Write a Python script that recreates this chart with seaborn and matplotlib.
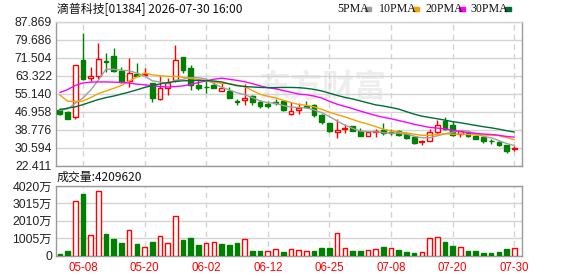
import numpy as np
import pandas as pd
import matplotlib
matplotlib.use("Agg")
import matplotlib.pyplot as plt
import seaborn as sns

# ---------------- data ----------------
dates = ["05-05", "05-06", "05-07", "05-08", "05-11", "05-12", "05-13", "05-14", "05-15", "05-18",
         "05-19", "05-20", "05-21", "05-22", "05-26", "05-27", "05-28", "05-29", "06-01", "06-02",
         "06-03", "06-04", "06-05", "06-08", "06-09", "06-10", "06-11", "06-12", "06-15", "06-16",
         "06-17", "06-18", "06-22", "06-23", "06-24", "06-25", "06-26", "06-29", "06-30", "07-02",
         "07-03", "07-06", "07-07", "07-08", "07-09", "07-10", "07-13", "07-14", "07-15", "07-16",
         "07-17", "07-20", "07-21", "07-22", "07-23", "07-24", "07-27", "07-28", "07-29", "07-30"]

open_ = [47.8, 46.9, 44.5, 70.4, 62.3, 63.3, 69.8, 72.2, 65.6, 61.1,
         64.2, 63.6, 59.9, 52.8, 57.9, 61.5, 71.6, 67.0, 59.0, 58.3,
         59.1, 56.6, 56.4, 51.9, 52.1, 54.2, 51.2, 50.4, 51.3, 51.9,
         45.9, 47.8, 49.5, 50.1, 45.6, 41.7, 37.6, 39.2, 40.6, 38.1,
         36.2, 38.0, 38.7, 37.9, 38.4, 36.9, 35.4, 33.5, 33.9, 37.8,
         42.6, 41.1, 36.9, 37.4, 36.1, 35.4, 33.9, 33.3, 31.8, 30.2]
close = [46.0, 43.8, 68.0, 61.8, 63.0, 70.8, 69.3, 65.4, 60.3, 64.4,
         63.4, 64.0, 53.1, 57.8, 60.1, 70.6, 65.9, 59.0, 57.7, 58.0,
         57.9, 57.6, 53.4, 51.5, 53.4, 51.2, 49.4, 49.4, 51.0, 47.6,
         47.4, 48.9, 49.1, 45.6, 42.2, 38.1, 38.7, 39.4, 38.4, 35.9,
         37.6, 38.2, 37.3, 37.5, 36.6, 35.1, 32.9, 33.7, 37.8, 41.1,
         39.3, 36.6, 38.1, 35.9, 34.8, 33.6, 33.6, 31.8, 29.1, 30.4]
high = [48.6, 47.2, 68.3, 82.8, 67.3, 78.3, 73.8, 75.8, 67.4, 71.3,
        69.0, 66.6, 60.2, 63.0, 62.2, 77.1, 71.8, 68.0, 61.6, 61.0,
        61.1, 60.3, 58.4, 52.8, 59.4, 54.6, 52.4, 51.9, 52.8, 52.0,
        51.6, 50.9, 51.9, 50.3, 45.9, 41.7, 43.6, 41.4, 40.6, 39.6,
        38.4, 39.2, 41.9, 39.3, 38.9, 37.8, 35.9, 34.4, 39.3, 43.4,
        44.7, 42.6, 38.9, 38.4, 36.6, 35.9, 34.6, 33.6, 32.1, 31.3]
low = [45.3, 43.7, 43.8, 61.4, 61.0, 61.8, 65.1, 65.0, 59.9, 58.4,
       63.0, 63.1, 51.6, 52.3, 54.8, 60.5, 64.6, 56.7, 56.8, 55.4,
       57.6, 56.6, 53.4, 50.1, 50.1, 50.1, 48.9, 48.9, 50.1, 47.4,
       45.3, 45.9, 48.6, 44.4, 41.6, 37.8, 35.1, 37.4, 38.1, 35.9,
       35.9, 35.7, 36.6, 36.6, 36.2, 34.6, 32.4, 32.1, 33.6, 36.6,
       38.7, 35.9, 35.4, 35.4, 34.8, 32.9, 32.6, 31.3, 28.4, 29.1]

ma5 = [47.6, 48.2, 50.8, 53.2, 56.8, 61.3, 66.3, 66.2, 65.8, 65.6,
       64.5, 63.2, 61.0, 60.5, 59.9, 61.1, 61.7, 62.5, 62.4, 61.8,
       59.7, 58.1, 56.9, 55.6, 54.7, 53.4, 51.9, 51.1, 50.8, 49.8,
       49.1, 48.9, 48.7, 47.8, 46.6, 44.8, 42.8, 40.9, 39.5, 38.2,
       38.0, 37.9, 37.5, 37.3, 37.3, 36.9, 35.9, 35.2, 35.2, 36.1,
       37.0, 37.7, 38.5, 38.2, 37.0, 35.8, 35.2, 33.9, 32.6, 31.7]
ma10 = [54.6, 51.8, 51.6, 51.8, 53.4, 55.2, 56.4, 57.6, 58.9, 60.9,
        62.7, 64.6, 63.7, 63.3, 63.0, 63.0, 62.6, 62.0, 61.6, 61.0,
        60.4, 59.8, 59.7, 59.1, 58.4, 56.6, 54.9, 54.0, 53.3, 52.2,
        51.2, 50.3, 49.9, 49.2, 48.1, 46.8, 45.7, 44.7, 43.5, 42.3,
        41.4, 40.3, 39.1, 38.3, 37.8, 37.4, 36.8, 36.3, 36.3, 36.7,
        37.0, 36.8, 36.9, 36.7, 36.5, 36.4, 36.4, 36.2, 35.3, 34.3]
ma20 = [55.7, 57.0, 58.9, 60.0, 60.4, 60.5, 60.5, 60.4, 60.3, 60.0,
        59.5, 59.2, 58.8, 58.4, 58.2, 58.4, 58.7, 59.4, 60.2, 61.0,
        61.7, 62.2, 61.7, 61.2, 60.6, 59.7, 58.7, 57.9, 57.4, 56.6,
        55.8, 55.0, 54.7, 54.1, 53.2, 51.7, 50.4, 49.4, 48.4, 47.3,
        46.3, 45.3, 44.5, 43.8, 43.0, 42.2, 41.3, 40.6, 39.9, 39.6,
        39.2, 38.6, 38.0, 37.5, 37.2, 36.9, 36.7, 36.3, 35.8, 35.5]
ma30 = [48.0, 48.6, 49.2, 50.2, 51.4, 52.5, 53.4, 54.1, 55.0, 55.9,
        56.9, 58.0, 58.8, 59.6, 60.2, 60.7, 61.0, 61.1, 61.2, 61.1,
        60.9, 60.5, 59.6, 58.8, 58.4, 58.2, 58.0, 57.9, 57.9, 58.0,
        58.0, 57.9, 57.6, 57.1, 56.4, 55.4, 54.4, 53.5, 52.8, 51.9,
        51.0, 50.1, 49.6, 48.9, 48.2, 47.0, 45.9, 45.0, 44.4, 43.8,
        43.2, 42.5, 42.0, 41.4, 40.8, 40.2, 39.7, 39.1, 38.4, 37.8]

volume_wan = [78, 234, 3159, 3569, 1170, 3744, 1229, 936, 722, 1463,
              663, 468, 780, 1112, 702, 2282, 878, 995, 585, 702,
              761, 644, 624, 722, 975, 254, 254, 234, 351, 176,
              351, 332, 234, 254, 410, 410, 1287, 449, 234, 234,
              332, 390, 468, 449, 293, 176, 117, 215, 1034, 1092,
              761, 527, 507, 234, 234, 117, 117, 176, 351, 421]
# 1 = red (up) volume bar, 0 = green
vol_up = [0, 0, 1, 0, 1, 1, 0, 0, 0, 1,
          0, 1, 0, 1, 1, 1, 0, 0, 0, 1,
          1, 0, 0, 0, 1, 0, 0, 1, 1, 0,
          1, 1, 1, 0, 0, 0, 1, 1, 0, 0,
          1, 1, 0, 1, 0, 0, 0, 1, 1, 1,
          0, 0, 1, 0, 0, 0, 0, 0, 0, 1]

price_ticks = [22.411, 30.594, 38.776, 46.958, 55.140, 63.322, 71.504, 79.686, 87.869]
vol_ticks = [0, 1005, 2010, 3015, 4020]
vol_tick_labels = ["0", "1005万", "2010万", "3015万", "4020万"]
date_ticks = ["05-08", "05-20", "06-02", "06-12", "06-25", "07-08", "07-20", "07-30"]

title = "滴普科技[01384] 2026-07-30 16:00"
vol_title = "成交量:4209620"
legend_names = ["5PMA", "10PMA", "20PMA", "30PMA"]

# ---------------- style ----------------
sns.set_theme(style="white")
plt.rcParams["font.family"] = ["Liberation Sans", "Noto Sans CJK SC", "DejaVu Sans"]

RED = "#ff0000"
GREEN = "#008000"
MA_COLORS = ["#a0a0a0", "#f2a300", "#ff00ff", "#006d36"]
GRID = "#d4d4d4"
SPINE = "#9a9a9a"
TXT = "#222222"

df = pd.DataFrame({"date": dates, "open": open_, "close": close, "high": high, "low": low,
                   "ma5": ma5, "ma10": ma10, "ma20": ma20, "ma30": ma30,
                   "vol": volume_wan, "vol_up": vol_up})
df["i"] = np.arange(len(df))
df["up"] = df["close"] >= df["open"]

W, H = 578, 276
fig = plt.figure(figsize=(W / 100, H / 100), dpi=100)
L, R = 55.5, 522
ax = fig.add_axes([L / W, 1 - 166 / H, (R - L) / W, (166 - 21.5) / H])
axv = fig.add_axes([L / W, 1 - 255.5 / H, (R - L) / W, (255.5 - 186) / H])

xlim = (-0.56, 60.0)
tick_pos = [dates.index(d) for d in date_ticks]

# ---------- price panel ----------
# watermark
ax.text(34.0, 57.5, "东方财富", fontsize=23, color="#eeeeee", fontweight="bold",
        family=["Noto Sans CJK SC"], ha="center", va="center", zorder=0)

ax.vlines(df["i"], df["low"], df["high"],
          colors=[RED if u else GREEN for u in df["up"]], linewidth=1.0, zorder=2)
body_bottom = np.minimum(df["open"], df["close"])
body_h = np.abs(df["close"] - df["open"])
ax.bar(df["i"], body_h, bottom=body_bottom, width=0.62,
       color=["white" if u else GREEN for u in df["up"]],
       edgecolor=[RED if u else GREEN for u in df["up"]], linewidth=1.0, zorder=3)

for col, c in zip(["ma5", "ma10", "ma20", "ma30"], MA_COLORS):
    sns.lineplot(data=df, x="i", y=col, ax=ax, color=c, linewidth=1.0, zorder=4)

ax.set_xlim(*xlim)
ax.set_ylim(price_ticks[0], price_ticks[-1])
ax.set_yticks(price_ticks)
ax.set_yticklabels([f"{t:.3f}" for t in price_ticks])
ax.set_xticks(tick_pos)
ax.set_xticklabels([])
ax.set_xlabel("")
ax.set_ylabel("")

# ---------- volume panel ----------
axv.bar(df["i"], df["vol"], width=0.6,
        color=["white" if u else GREEN for u in df["vol_up"]],
        edgecolor=[RED if u else GREEN for u in df["vol_up"]], linewidth=1.0, zorder=3)
axv.set_xlim(*xlim)
axv.set_ylim(0, vol_ticks[-1])
axv.set_yticks(vol_ticks)
axv.set_yticklabels(vol_tick_labels)
axv.set_xticks(tick_pos)
axv.set_xticklabels(date_ticks)

for a in (ax, axv):
    a.grid(False)
    for t in a.get_yticks():
        a.axhline(t, color=GRID, linewidth=1.0, zorder=1)
    for p in tick_pos:
        a.axvline(p, color=GRID, linewidth=1.0, linestyle=(0, (4, 3)), zorder=1)
    for s in a.spines.values():
        s.set_color(SPINE)
        s.set_linewidth(1.0)
    a.tick_params(axis="both", length=0, pad=2.5)
    for lab in a.get_yticklabels():
        lab.set_fontsize(8.8)
        lab.set_color(TXT)

for lab in axv.get_xticklabels():
    lab.set_fontsize(8.3)
    lab.set_color(RED)
axv.tick_params(axis="x", pad=5)
ax.spines["top"].set_color(GRID)

# ---------- texts ----------
fig.text(57 / W, 1 - 9 / H, title, fontsize=8.6, color="#111111",
         family=["Noto Sans CJK SC", "DejaVu Sans"], ha="left", va="center")
fig.text(57 / W, 1 - 177.5 / H, vol_title, fontsize=8.6, color="#111111",
         family=["Noto Sans CJK SC", "DejaVu Sans"], ha="left", va="center")

leg_x = [337, 379, 425, 470]
dash_x = [365, 413, 459, 505]
for name, lx, dx, c in zip(legend_names, leg_x, dash_x, MA_COLORS):
    fig.text(lx / W, 1 - 9 / H, name, fontsize=8.6, color="#111111",
             family=["Liberation Serif"], ha="left", va="center")
    fig.patches.append(plt.Rectangle((dx / W, 1 - 10.5 / H), 6 / W, 3 / H,
                                     transform=fig.transFigure, color=c, figure=fig))

fig.savefig("out.png", dpi=100)
